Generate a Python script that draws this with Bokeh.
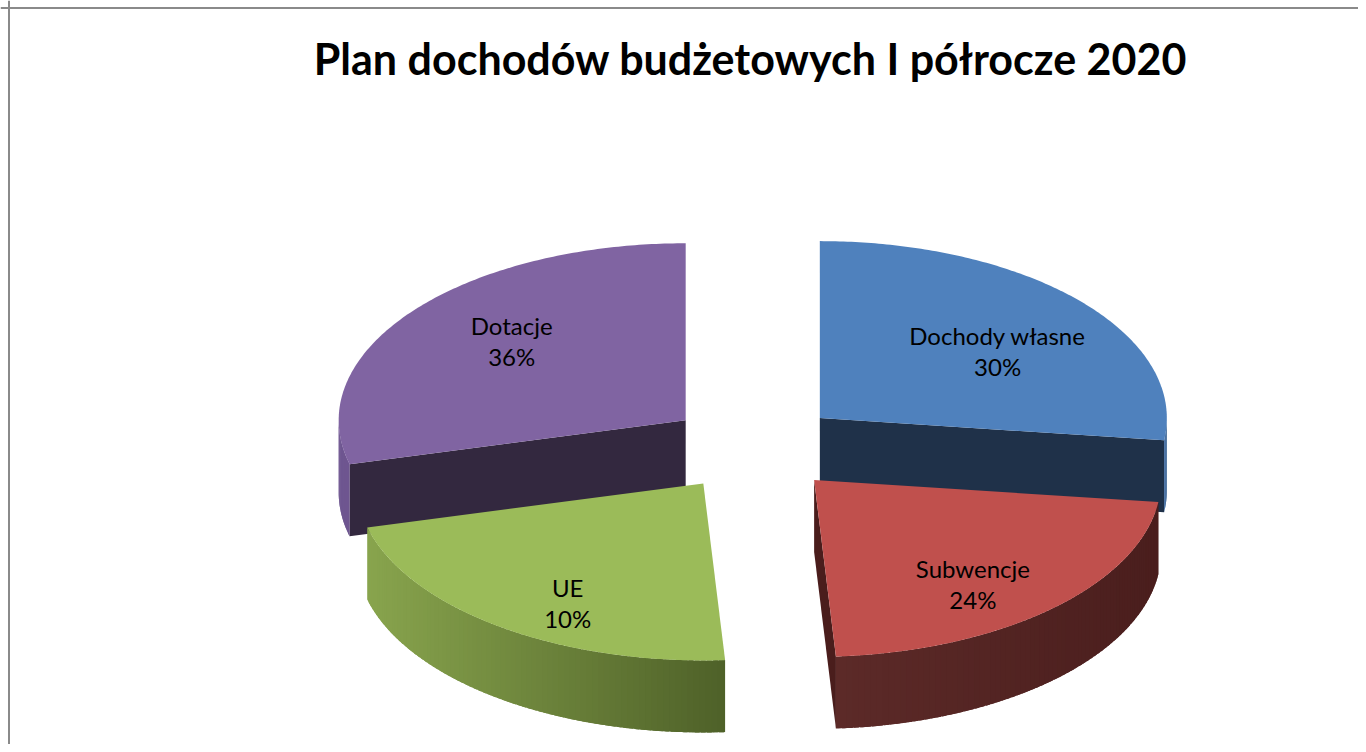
import numpy as np
from bokeh.plotting import figure
from bokeh.models import Range1d, Span, ColumnDataSource
from bokeh.embed import file_html
from bokeh.resources import INLINE
from bokeh.core.properties import value

# ---------------- data ----------------
title_text = "Plan dochodów budżetowych I półrocze 2020"
categories = ["Dochody własne", "Subwencje", "UE", "Dotacje"]
label_percent = [30, 24, 10, 36]      # percentages printed on the slices
drawn_share = [27, 22, 22, 29]        # slice sizes as drawn in the picture (%)

# ---------------- style ----------------
top_colors = ["#4F81BD", "#C0504D", "#9BBB59", "#8064A2"]
cut_colors = ["#1F3149", "#4A1D1C", "#4F6228", "#33283F"]
crust_left = ["#4671A6", "#5C2A28", "#88A44D", "#6E5690"]
crust_right = ["#3C6390", "#4A1E1D", "#4E6028", "#6E5690"]

W, H = 1358, 744
cx, cy = 754, 447          # pie centre on canvas (px)
rx, ry = 347, 177          # ellipse radii of the top face
depth = 72                 # thickness of the pie
explode = 0.251            # explosion as fraction of radius
label_r = 0.66
label_nudge = [(6, 10), (2, 19), (-1, 25), (7, -8)]
line_gap = 15.5

p = figure(width=W, height=H, output_backend="svg", toolbar_location=None,
           x_range=Range1d(0, W), y_range=Range1d(H, 0),
           x_axis_location=None, y_axis_location=None, min_border=0)
p.grid.visible = False
p.outline_line_color = None
p.background_fill_color = "white"
p.border_fill_color = "white"

bounds = np.concatenate([[0.0], np.cumsum(drawn_share)]) / float(sum(drawn_share)) * 360.0


def pt(th, r, z, ox, oy):
    t = np.radians(th)
    return ox + r * rx * np.sin(t), oy - r * ry * np.cos(t) + z * depth


def hex2rgb(h):
    h = h.lstrip("#")
    return np.array([int(h[i:i + 2], 16) for i in (0, 2, 4)], dtype=float)


def mix(c1, c2, f):
    c = hex2rgb(c1) * (1 - f) + hex2rgb(c2) * f
    return "#%02x%02x%02x" % tuple(int(round(v)) for v in c)


def origin(i):
    m = np.radians((bounds[i] + bounds[i + 1]) / 2)
    return cx + explode * rx * np.sin(m), cy - explode * ry * np.cos(m), m


label_x, label_y = [], []
for i in range(len(categories)):
    ox, oy, m = origin(i)
    label_x.append(ox + label_r * rx * np.sin(m) + label_nudge[i][0])
    label_y.append(oy - label_r * ry * np.cos(m) + label_nudge[i][1])

xs, ys, fills = [], [], []
order = [3, 0, 2, 1]  # back slices first
for i in order:
    a0, a1 = bounds[i], bounds[i + 1]
    ox, oy, m = origin(i)
    # radial cut faces
    for a, vis in ((a0, np.sin(np.radians(a0)) < -1e-6), (a1, np.sin(np.radians(a1)) > 1e-6)):
        if vis:
            x1, y1 = pt(a, 1, 0, ox, oy)
            x2, y2 = pt(a, 1, 1, ox, oy)
            xs.append([ox, x1, x2, ox])
            ys.append([oy, y1, y2, oy + depth])
            fills.append(cut_colors[i])
    # outer crust (front-facing part), shaded in overlapping strips
    lo, hi = max(a0, 90.0), min(a1, 270.0)
    if hi > lo:
        nseg = max(2, int((hi - lo) / 1.0))
        edges = np.linspace(lo, hi, nseg + 1)
        step = edges[1] - edges[0]
        xa, _ = pt(lo, 1, 0, ox, oy)
        xb, _ = pt(hi, 1, 0, ox, oy)
        xmin, xmax = min(xa, xb), max(xa, xb)
        for k in range(nseg):
            s0 = max(lo, edges[k] - 0.8 * step)
            tt = np.linspace(s0, edges[k + 1], 5)
            tx, ty = pt(tt, 1, 0, ox, oy)
            bx, by = pt(tt[::-1], 1, 1, ox, oy)
            xs.append(list(tx) + list(bx))
            ys.append(list(ty) + list(by))
            xc = pt((edges[k] + edges[k + 1]) / 2, 1, 0, ox, oy)[0]
            f = 0.0 if xmax - xmin < 1 else (xc - xmin) / (xmax - xmin)
            fills.append(mix(crust_left[i], crust_right[i], f))
    # top face
    tt = np.linspace(a0, a1, 150)
    tx, ty = pt(tt, 1, 0, ox, oy)
    xs.append([ox] + list(tx))
    ys.append([oy] + list(ty))
    fills.append(top_colors[i])

p.patches(xs=xs, ys=ys, fill_color=fills, line_color=None)

src = ColumnDataSource(dict(
    x=label_x,
    y_name=[v - line_gap for v in label_y],
    y_pct=[v + line_gap for v in label_y],
    name=categories,
    pct=["%d%%" % v for v in label_percent],
))
for col, ycol in (("name", "y_name"), ("pct", "y_pct")):
    p.text(x="x", y=ycol, text=col, source=src, text_align="center",
           text_baseline="middle", text_font=value("Lato"),
           text_font_size="24px", text_color="#000000")

p.text(x=[750], y=[58], text=[title_text], text_align="center",
       text_baseline="middle", text_font=value("Lato"),
       text_font_style="bold", text_font_size="43px", text_color="#000000")

p.add_layout(Span(location=7.5, dimension="width", line_color="#8a8a8a", line_width=2))
p.add_layout(Span(location=8.5, dimension="height", line_color="#8a8a8a", line_width=2))

open("out.html", "w").write(file_html(p, INLINE))
